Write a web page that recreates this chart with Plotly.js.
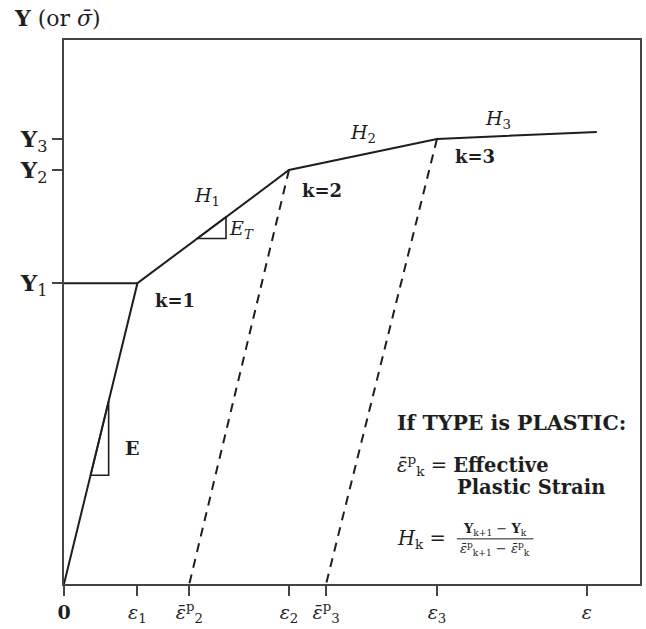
<!DOCTYPE html>
<html>
<head>
<meta charset="utf-8">
<script src="https://cdn.plot.ly/plotly-3.0.1.min.js"></script>
<style>html,body{margin:0;padding:0;background:#fff}#chart{width:646px;height:629px}</style>
</head>
<body>
<div id="chart"></div>
<script>
// ---- data (schematic units) ----
var curveStrain = [0, 1.02, 3.125, 5.18, 7.40];
var curveStress = [0, 5.53, 7.61, 8.18, 8.31];

var yieldLineStrain = [0, 1.02];
var yieldLineStress = [5.53, 5.53];

var unload2Strain = [3.125, 1.74];
var unload2Stress = [7.61, 0];
var unload3Strain = [5.18, 3.64];
var unload3Stress = [8.18, 0];

var triEStrain = [0.37, 0.62, 0.62, 0.37];
var triEStress = [2.0, 3.36, 2.0, 2.0];
var triETStrain = [1.847, 2.25, 2.25, 1.847];
var triETStress = [6.35, 6.75, 6.35, 6.35];

var xTickVals = [0, 1.02, 1.74, 3.125, 3.64, 5.18, 7.26];
var xTickText = ['<b>0</b>', '<i>ε</i><sub>1</sub>', '<i>ε̄</i><sup>p</sup><sub>2</sub>', '<i>ε</i><sub>2</sub>',
                 '<i>ε̄</i><sup>p</sup><sub>3</sub>', '<i>ε</i><sub>3</sub>', '<i>ε</i>'];
var yTickVals = [5.53, 7.61, 8.18];
var yTickText = ['<b>Y</b><sub>1</sub>', '<b>Y</b><sub>2</sub>', '<b>Y</b><sub>3</sub>'];

var ink = '#1e1e1e';
var serif = 'DejaVu Serif, Liberation Serif, serif';

function line(x, y, dash, w) {
  return {x: x, y: y, type: 'scatter', mode: 'lines', hoverinfo: 'skip', showlegend: false,
          line: {color: ink, width: w || 2, dash: dash || 'solid'}};
}

var traces = [
  line(yieldLineStrain, yieldLineStress),
  line(curveStrain, curveStress),
  line(unload2Strain, unload2Stress, '9px,7px'),
  line(unload3Strain, unload3Stress, '9px,7px'),
  line(triEStrain, triEStress, 'solid', 1.6),
  line(triETStrain, triETStress, 'solid', 1.6)
];

function ann(x, y, text, size, extra) {
  var a = {x: x, y: y, xref: 'x', yref: 'y', text: text, showarrow: false,
           font: {family: serif, size: size || 16, color: ink}};
  for (var k in extra) a[k] = extra[k];
  return a;
}
function pann(x, y, text, size, extra) {
  var a = {x: x, y: y, xref: 'paper', yref: 'paper', text: text, showarrow: false,
           xanchor: 'left', font: {family: serif, size: size || 16, color: ink}};
  for (var k in extra) a[k] = extra[k];
  return a;
}

var annotations = [
  ann(0.95, 2.5, '<b>E</b>', 19),
  ann(2.47, 6.51, '<i>E<sub>T</sub></i>', 19),
  ann(1.99, 7.13, '<i>H</i><sub>1</sub>', 19),
  ann(4.15, 8.29, '<i>H</i><sub>2</sub>', 19),
  ann(6.03, 8.53, '<i>H</i><sub>3</sub>', 19),
  ann(1.54, 5.22, '<b>k=1</b>', 18),
  ann(3.58, 7.24, '<b>k=2</b>', 18),
  ann(5.71, 7.85, '<b>k=3</b>', 18),
  pann(-0.091, 1.041, '<b>Y</b> (or <i>σ̄</i>)', 22, {yanchor: 'middle'}),
  pann(0.575, 0.296, '<b>If TYPE is PLASTIC:</b>', 20.5, {yanchor: 'middle'}),
  pann(0.575, 0.219, '<i>ε̄</i><sup>p</sup><sub>k</sub> = <b>Effective</b>', 19.5, {yanchor: 'middle'}),
  pann(0.679, 0.178, '<b>Plastic Strain</b>', 19.5, {yanchor: 'middle'}),
  pann(0.575, 0.081, '<i>H</i><sub>k</sub> =', 19.5, {yanchor: 'middle'}),
  pann(0.748, 0.101, '<b>Y</b><sub>k+1</sub> − <b>Y</b><sub>k</sub>', 13, {xanchor: 'center', yanchor: 'middle'}),
  pann(0.748, 0.064, '<i>ε̄</i><sup>p</sup><sub>k+1</sub> − <i>ε̄</i><sup>p</sup><sub>k</sub>', 13, {xanchor: 'center', yanchor: 'middle'})
];

var layout = {
  width: 646, height: 629,
  margin: {l: 64, r: 6, t: 40, b: 45},
  paper_bgcolor: '#fff', plot_bgcolor: '#fff',
  showlegend: false,
  font: {family: serif, color: ink},
  xaxis: {range: [0, 8], showgrid: false, zeroline: false,
          showline: true, mirror: true, linecolor: '#444', linewidth: 2,
          ticks: 'outside', ticklen: 10, tickwidth: 2, tickcolor: '#444',
          tickmode: 'array', tickvals: xTickVals, ticktext: xTickText,
          tickfont: {family: serif, size: 19, color: ink}},
  yaxis: {range: [0, 10], showgrid: false, zeroline: false,
          showline: true, mirror: true, linecolor: '#444', linewidth: 2,
          ticks: 'outside', ticklen: 10, tickwidth: 2, tickcolor: '#444',
          tickmode: 'array', tickvals: yTickVals, ticktext: yTickText,
          tickfont: {family: serif, size: 23, color: ink}},
  shapes: [
    {type: 'line', xref: 'paper', yref: 'paper', x0: 0.682, x1: 0.815, y0: 0.083, y1: 0.083,
     line: {color: ink, width: 1}}
  ],
  annotations: annotations
};

Plotly.newPlot('chart', traces, layout, {displayModeBar: false, staticPlot: true});
</script>
</body>
</html>
